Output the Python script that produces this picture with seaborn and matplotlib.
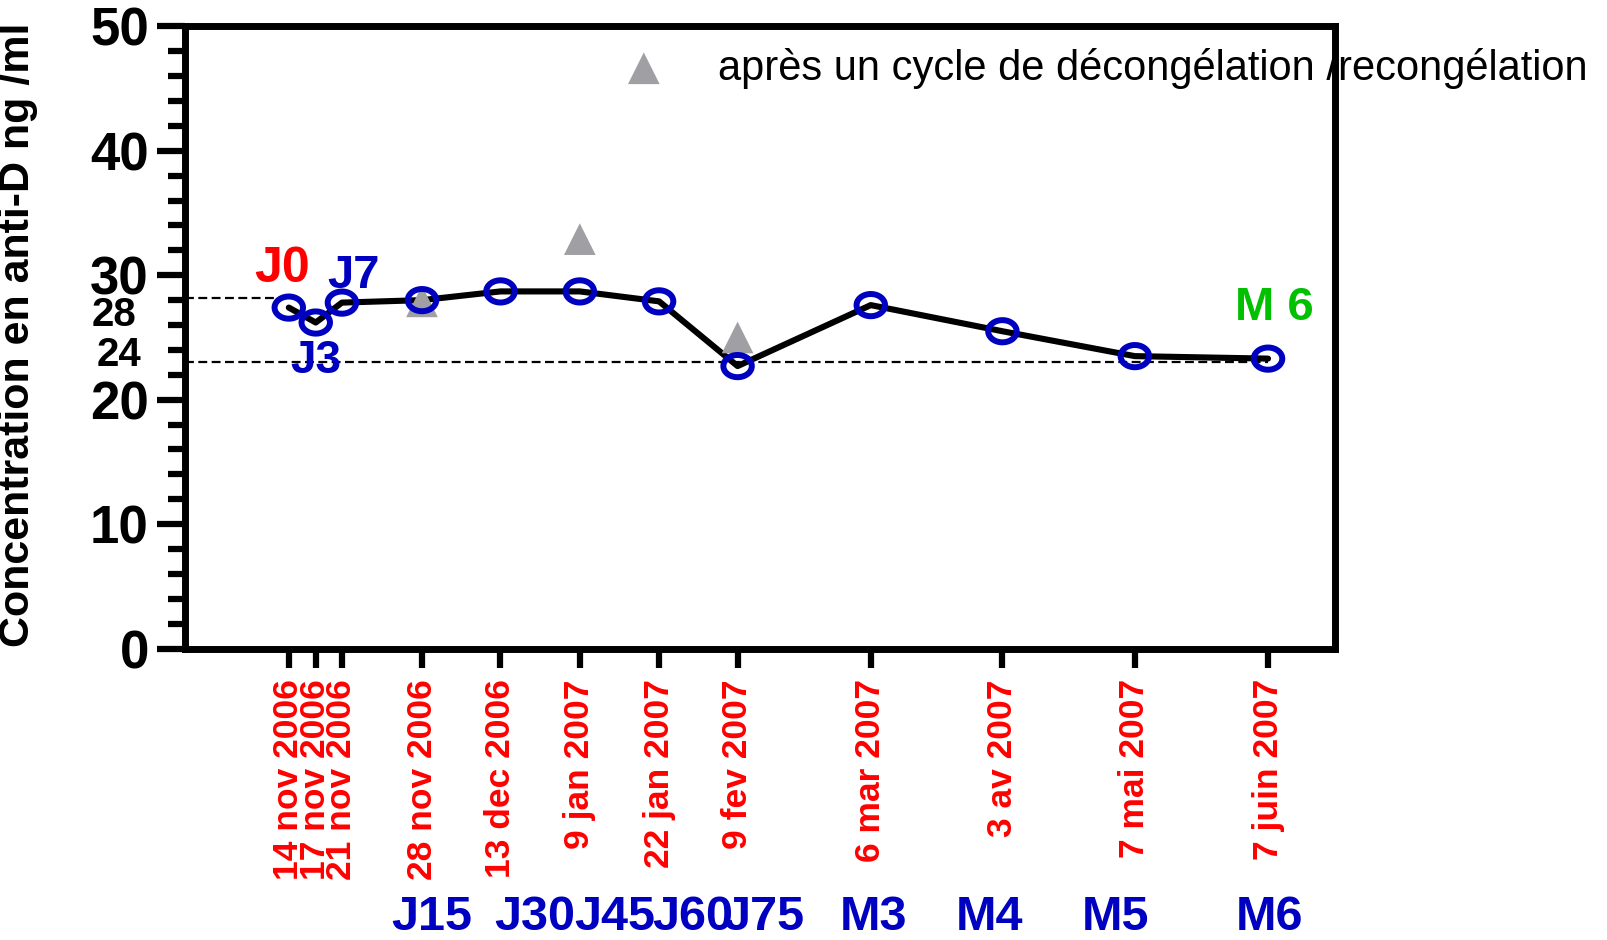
import numpy as np
import pandas as pd
import matplotlib
matplotlib.use("Agg")
import matplotlib.pyplot as plt
import seaborn as sns
from matplotlib.path import Path
from matplotlib import font_manager as fm
import matplotlib.transforms as mtrans

# ---------------- data ----------------
dates = ["14 nov 2006", "17 nov 2006", "21 nov 2006", "28 nov 2006", "13 dec 2006",
         "9 jan 2007", "22 jan 2007", "9 fev 2007", "6 mar 2007", "3 av 2007",
         "7 mai 2007", "7 juin 2007"]
x_pos = [0, 0.34, 0.67, 1.68, 2.67, 3.67, 4.67, 5.66, 7.34, 9.0, 10.67, 12.35]
conc = [27.4, 26.2, 27.8, 28.0, 28.7, 28.7, 27.9, 22.7, 27.6, 25.5, 23.5, 23.3]
thaw_x = [1.68, 3.67, 5.66]
thaw_vals = [27.9, 32.9, 25.0]
visit_labels = ["J15", "J30", "J45", "J60", "J75", "M3", "M4", "M5", "M6"]
visit_x = [1.80, 3.10, 4.11, 5.09, 5.99, 7.38, 8.84, 10.43, 12.37]
ref_upper = 28.2
ref_lower = 23.0
legend_label = "après un cycle de décongélation /recongélation"

df = pd.DataFrame({"x": x_pos, "conc": conc})
df_thaw = pd.DataFrame({"x": thaw_x, "conc": thaw_vals})

sns.set_style("ticks")
names = {f.name for f in fm.fontManager.ttflist}
BOLD = "Liberation Sans" if "Liberation Sans" in names else "DejaVu Sans"
plt.rcParams["font.family"] = [BOLD, "DejaVu Sans"]
for k in ["text.color", "axes.labelcolor", "xtick.color", "ytick.color",
          "axes.edgecolor"]:
    plt.rcParams[k] = "black"

BLUE = "#0000C0"
RED = "#FF0000"
GREEN = "#00C000"
GREY = "#A0A0A4"

fig = plt.figure(figsize=(16.08, 9.40), dpi=100)
ax = fig.add_axes([0.115, 0.310, 0.715, 0.662])

# ellipse marker
t = np.linspace(0, 2 * np.pi, 60)
ell = Path(np.column_stack([np.cos(t), 0.78 * np.sin(t)]), closed=True)

sns.lineplot(data=df, x="x", y="conc", ax=ax, color="black", lw=4.4, zorder=3,
             legend=False)
sns.scatterplot(data=df_thaw, x="x", y="conc", ax=ax, marker="^", s=520,
                color=GREY, edgecolor="none", zorder=4, legend=False)
sns.scatterplot(data=df, x="x", y="conc", ax=ax, marker=ell, s=420,
                facecolor="none", edgecolor=BLUE, linewidth=4.3, zorder=5,
                legend=False)

x0, x1 = -1.31, 13.19
ax.plot([x0, x_pos[0]], [ref_upper, ref_upper], ls=(0, (4, 2)), color="black",
        lw=1.6, zorder=2)
ax.plot([x0, x_pos[-1]], [ref_lower, ref_lower], ls=(0, (4, 2)), color="black",
        lw=1.6, zorder=2)

ax.set_xlim(x0, x1)
ax.set_ylim(0, 50)

for s in ax.spines.values():
    s.set_linewidth(5)
    s.set_visible(True)
    s.set_color("black")

ax.set_yticks([0, 10, 20, 30, 40, 50])
ax.set_yticks(np.arange(0, 51, 2), minor=True)
ax.tick_params(axis="y", which="major", length=20, width=4.5, pad=6,
               labelsize=38, colors="black")
ax.tick_params(axis="y", which="minor", length=12, width=4.5, colors="black")
for lab in ax.get_yticklabels():
    lab.set_fontweight("bold")

ax.set_xticks(x_pos)
ax.set_xticklabels(dates, rotation=90, color=RED, fontsize=25.5,
                   fontweight="bold")
ax.tick_params(axis="x", which="major", length=14, width=4.5, pad=8,
               color="black")
ax.set_xlabel("")
ax.set_ylabel("Concentration en anti-D ng /ml", fontsize=31, fontweight="bold",
              color="black")
ax.yaxis.set_label_coords(-0.128, 0.505)

# extra reference labels on y axis
ytr = mtrans.blended_transform_factory(ax.transAxes, ax.transData)
ax.text(-0.062, 26.8, "28", transform=ytr, ha="center", va="center",
        fontsize=29, fontweight="bold", clip_on=False)
ax.text(-0.057, 23.6, "24", transform=ytr, ha="center", va="center",
        fontsize=29, fontweight="bold", clip_on=False)

# point annotations
ax.text(-0.09, 30.5, "J0", color=RED, fontsize=36, fontweight="bold",
        ha="center", va="center")
ax.text(0.82, 29.9, "J7", color=BLUE, fontsize=34, fontweight="bold",
        ha="center", va="center")
ax.text(0.34, 23.1, "J3", color=BLUE, fontsize=33, fontweight="bold",
        ha="center", va="center")
ax.text(12.43, 27.4, "M 6", color=GREEN, fontsize=34, fontweight="bold",
        ha="center", va="center")

# visit labels under the dates
vtr = mtrans.blended_transform_factory(ax.transData, fig.transFigure)
for lab, xv in zip(visit_labels, visit_x):
    ax.text(xv, 0.024, lab, transform=vtr, color=BLUE, fontsize=35,
            fontweight="bold", ha="center", va="center", clip_on=False)

# legend
ax.scatter([(644 - 185) / 1150], [(649 - 68) / 623], transform=ax.transAxes,
           marker="^", s=520, color=GREY, edgecolor="none", clip_on=False,
           zorder=4)
ax.text((718 - 185) / 1150, (649 - 68) / 623, legend_label,
        transform=ax.transAxes, fontsize=30, ha="left", va="center",
        clip_on=False, zorder=2)

fig.savefig("out.png", dpi=100)
